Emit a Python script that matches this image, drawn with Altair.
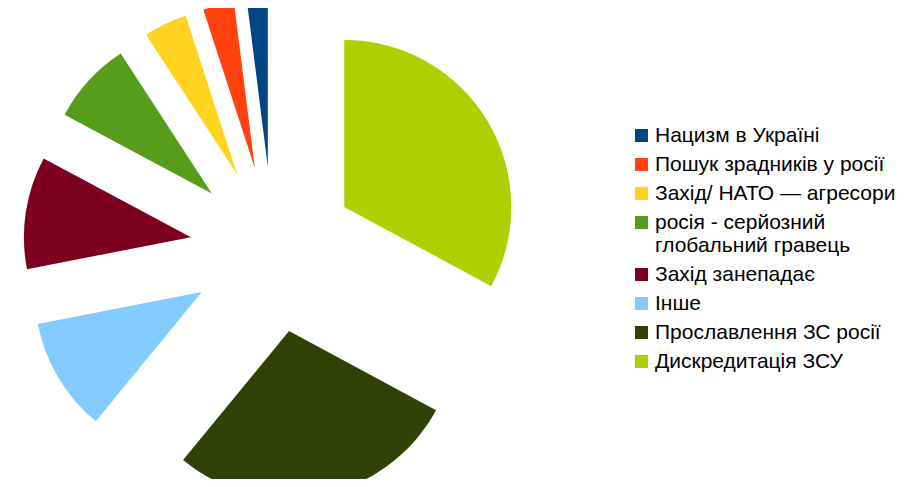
import altair as alt
import pandas as pd

# Slices in clockwise order starting at 12 o'clock
categories = [
    "Дискредитація ЗСУ",
    "Прославлення ЗС росії",
    "Інше",
    "Захід занепадає",
    "росія - серйозний глобальний гравець",
    "Захід/ НАТО — агресори",
    "Пошук зрадників у росії",
    "Нацизм в Україні",
]
values = [32.9, 28.1, 11.0, 10.9, 8.0, 4.2, 3.0, 2.0]
colors = ["#aecf00", "#314004", "#83caff", "#7e0021", "#579d1c", "#ffd320", "#ff420e", "#004586"]

legend_order = categories[::-1]
legend_colors = colors[::-1]

df = pd.DataFrame({"cat": categories, "value": values, "ord": list(range(len(categories)))})

CX, CY = 265, 241.5   # pie centre (px)
R = 167               # radius
OFF = 83              # explode distance

chart = (
    alt.Chart(df)
    .transform_window(cum="sum(value)", sort=[alt.SortField("ord")], frame=[None, 0])
    .transform_joinaggregate(total="sum(value)")
    .transform_calculate(
        t0="(datum.cum - datum.value) / datum.total * 2 * PI",
        t1="datum.cum / datum.total * 2 * PI",
    )
    .transform_calculate(mid="(datum.t0 + datum.t1) / 2")
    .transform_calculate(
        px=f"{CX} + {OFF} * sin(datum.mid)",
        py=f"{CY} - {OFF} * cos(datum.mid)",
    )
    .mark_arc(radius=R, stroke=None)
    .encode(
        theta=alt.Theta("t0:Q", scale=None),
        theta2=alt.Theta2("t1:Q"),
        x=alt.X("px:Q", scale=None),
        y=alt.Y("py:Q", scale=None),
        color=alt.Color(
            "cat:N",
            scale=alt.Scale(domain=legend_order, range=legend_colors),
            legend=alt.Legend(
                title=None,
                orient="none",
                legendX=623,
                legendY=117,
                symbolType="square",
                symbolSize=169,
                symbolStrokeWidth=0,
                labelFont="Liberation Sans",
                labelFontSize=21,
                labelColor="#000000",
                labelOffset=3,
                labelLimit=400,
                rowPadding=7,
                labelExpr="datum.label == 'росія - серйозний глобальний гравець' ? ['росія - серйозний', 'глобальний гравець'] : datum.label",
            ),
        ),
    )
    .properties(width=899, height=471, padding=0, autosize="none")
    .configure_view(stroke=None)
)

chart.save("out.html", embed_options={"renderer": "svg", "actions": False})
